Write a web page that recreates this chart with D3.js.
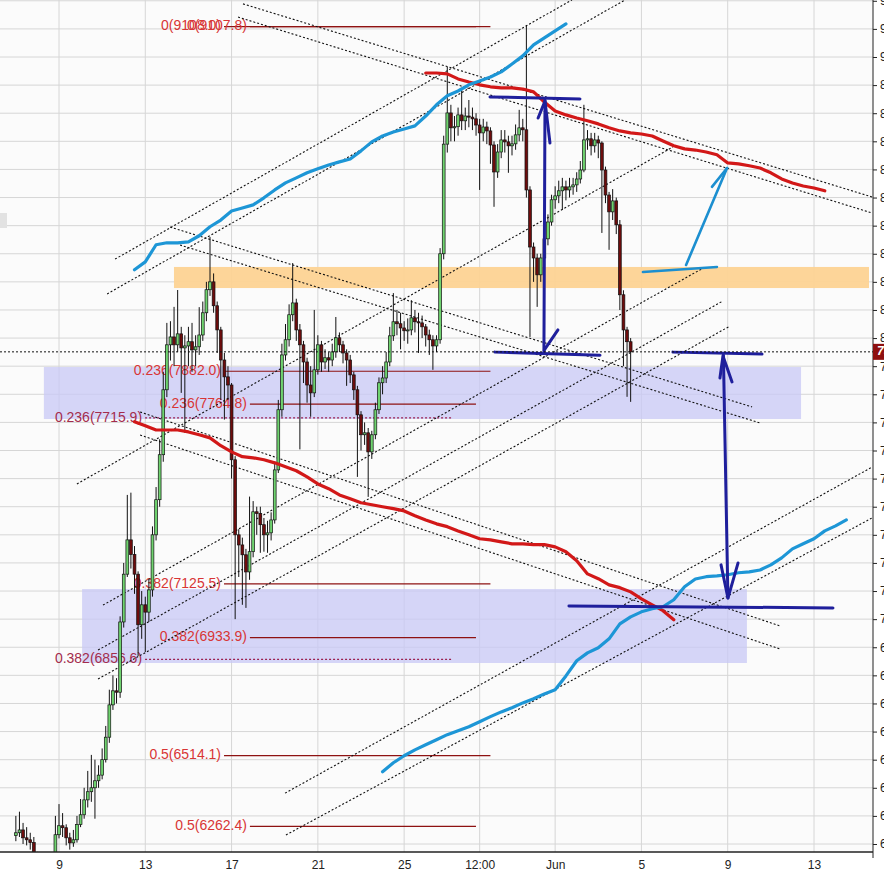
<!DOCTYPE html>
<html><head><meta charset="utf-8">
<script src="https://cdn.jsdelivr.net/npm/d3@7"></script>
<style>html,body{margin:0;padding:0;background:#fff;overflow:hidden}</style>
</head><body><svg id="c" width="884" height="875"></svg>
<script>
// ---------------- DATA ----------------
const candleStartDay = 7;        // May 7, 00:00 (day-of-May scale, June d = 31 + d)
const candleStepDays = 1 / 6;    // 4-hour candles
const firstOpen = 6230;
const closes = [6240,6250,6222,6215,6205,6170,6120,6080,6060,6100,6150,6233,6265,6258,6222,6204,6215,6269,6304,6357,
6386,6400,6425,6445,6500,6580,6695,6745,6740,6990,7160,7282,7230,7160,6980,7051,7025,7104,7300,7425,
7585,7816,7976,8004,7976,8015,7965,7972,7987,7958,7969,8011,8090,8172,8200,8115,8029,7922,7862,7833,
7567,7300,7264,7229,7168,7240,7382,7376,7336,7300,7307,7353,7531,7745,7940,7994,8083,8125,8029,7976,
7915,7833,7805,7887,7976,7915,7930,7922,7951,8001,7976,7947,7922,7869,7816,7727,7656,7663,7595,7656,
7745,7841,7858,7915,8008,8058,8051,8036,8026,8029,8072,8058,8054,8040,8011,7994,7972,7994,8300,8690,
8801,8748,8752,8794,8773,8790,8786,8780,8758,8730,8751,8737,8687,8591,8662,8705,8698,8684,8691,8723,
8748,8741,8527,8324,8285,8225,8285,8353,8413,8492,8506,8524,8538,8527,8538,8545,8566,8598,8705,8709,
8684,8705,8694,8598,8509,8449,8488,8403,8154,8029,7987,7951];
const highs = [6300,6315,6275,6260,6240,6225,6172,6135,6110,6130,6168,6300,6342,6310,6270,6240,6250,6300,6360,6400,
6460,6517,6500,6480,6540,6620,6749,6800,6790,7010,7200,7442,7450,7260,7170,7100,7080,7140,7330,7470,
7640,7880,8054,8060,8111,8171,8040,8010,8040,8054,8010,8110,8130,8200,8360,8230,8130,8040,7947,7900,
7840,7580,7320,7290,7250,7436,7420,7400,7400,7360,7350,7380,7560,7780,7980,8050,8120,8267,8140,8050,
7990,7930,7900,8100,8010,7990,7960,7950,7980,8075,8020,7990,7960,7940,7880,7830,7740,7700,7680,7670,
7770,7860,7900,7950,8040,8160,8100,8090,8060,8070,8135,8100,8090,8080,8050,8030,8010,8010,8320,8720,
8965,8830,8790,8820,8883,8820,8847,8820,8800,8780,8780,8770,8750,8700,8690,8740,8740,8720,8720,8760,
8812,8780,9114,8540,8340,8300,8300,8380,8440,8510,8540,8560,8570,8560,8570,8570,8590,8630,8830,8740,
8730,8730,8720,8700,8610,8520,8530,8500,8420,8170,8040,8000];
const lows = [6210,6225,6200,6195,6180,6160,6090,6050,6030,6040,6090,6140,6220,6225,6195,6180,6190,6205,6260,6290,
6330,6350,6290,6400,6430,6490,6560,6677,6700,6720,6970,7150,7180,7090,6869,6930,6883,6990,7080,7280,
7400,7560,7790,7920,7900,7950,7805,7663,7900,7880,7900,7940,7990,8060,8150,8090,7947,7780,7710,7780,
7500,7000,7150,7051,7040,7140,7220,7300,7236,7240,7236,7280,7340,7520,7720,7920,7970,8060,7990,7604,
7840,7770,7720,7790,7870,7880,7890,7880,7900,7930,7950,7910,7830,7840,7780,7506,7600,7620,7435,7570,
7640,7730,7800,7840,7900,7990,8010,7960,7990,7980,8010,8020,7947,8000,7970,7940,7887,7950,7980,8280,
8660,8700,8700,8720,8740,8740,8750,8740,8720,8527,8700,8690,8620,8467,8570,8640,8660,8588,8650,8670,
8700,8700,8500,8004,8200,8111,8200,8260,8330,8400,8460,8480,8456,8490,8500,8510,8520,8550,8590,8670,
8650,8660,8640,8374,8480,8314,8420,8370,8100,7900,7791,7773];

// moving averages, one value every half day
const maStep = 0.5;
const maBlueUpperStart = 12.5;
const maBlueUpper = [8243,8271,8332,8339,8339,8342,8364,8396,8420,8452,8463,8474,8499,8527,8552,8570,8588,8602,8616,8627,
8637,8666,8698,8719,8733,8744,8755,8790,8830,8862,8879,8901,8915,8929,8947,8975,9004,9043,9068,9093,9118];
const maRedUpperStart = 26.0;
const maRedUpper = [8943,8943,8940,8922,8911,8901,8894,8890,8890,8886,8876,8840,8808,8794,8783,8773,8762,8748,8737,8730,
8726,8719,8701,8684,8673,8669,8662,8652,8623,8620,8613,8605,8588,8566,8552,8541,8534,8524];
const maRedLowerStart = 12.5;
const maRedLower = [7702,7688,7673,7673,7673,7666,7656,7645,7617,7595,7578,7574,7567,7556,7542,7528,7506,7481,7464,7442,
7428,7414,7407,7400,7393,7385,7368,7353,7339,7329,7314,7300,7286,7282,7275,7268,7268,7265,7265,7257,
7240,7208,7161,7144,7122,7112,7097,7072,7051,7030,6998];
const maBlueLowerStart = 24.0;
const maBlueLower = [6457,6489,6514,6535,6553,6571,6589,6603,6617,6635,6653,6670,6685,6702,6717,6734,6749,6798,6852,6880,
6898,6930,6983,7008,7026,7037,7044,7069,7115,7143,7151,7154,7158,7165,7168,7175,7193,7218,7250,7268,
7286,7314,7332,7353];

// axis ticks
const dayTicks = [9,13,17,21,25,28.5,32,36,40,44];
const dayTickLabels = ["9","13","17","21","25","12:00","Jun","5","9","13"];
const priceTicks = [6200,6300,6400,6500,6600,6700,6800,6900,7000,7100,7200,7300,7400,7500,7600,7700,7800,7900,
8000,8100,8200,8300,8400,8500,8600,8700,8800,8900,9000,9100,9200];

// Fibonacci retracement drawings
const fibALabels = ["0(9108.0)","0.236(7882.0)","0.382(7125.5)","0.5(6514.1)"];
const fibAValues = [9108.0,7882.0,7125.5,6514.1];
const fibASpan = [16.65,29.0];
const fibBLabels = ["0(9107.8)","0.236(7764.8)","0.382(6933.9)","0.5(6262.4)"];
const fibBValues = [9107.8,7764.8,6933.9,6262.4];
const fibBSpan = [17.85,28.33];
const fibCLabels = ["0.236(7715.9)","0.382(6856.6)"];
const fibCValues = [7715.9,6856.6];
const fibCSpan = [12.99,27.22];

// dotted trend / channel lines [day, price] pairs
const trendLines = [
 [[17.53,9189],[46.69,8502]],
 [[17.30,9142],[46.69,8445]],
 [[11.60,8281],[32.78,9203]],
 [[11.23,8157],[35.24,9203]],
 [[14.15,8395],[41.13,7755]],
 [[14.61,8331],[41.50,7698]],
 [[12.76,7737],[42.42,6976]],
 [[12.76,7655],[42.42,6894]],
 [[9.83,7481],[37.46,8680]],
 [[11.04,7050],[38.86,8249]],
 [[10.81,6890],[39.78,8132]],
 [[10.81,6787],[40.11,8043]],
 [[19.48,6381],[46.69,7541]],
 [[19.52,6232],[46.69,7360]]
];

// zones
const zoneOrange = [[14.33,8253],[46.55,8178]];
const zonesBlue = [[[8.30,7897],[43.40,7712]],[[10.07,7107],[40.89,6844]]];

// hand-drawn annotations
const navyLines = [
 [[28.98,8858],[33.15,8851]],
 [[31.53,8847],[31.48,7951]],
 [[31.21,8783],[31.53,8843],[31.76,8694]],
 [[32.13,8029],[31.50,7958]],
 [[29.21,7950],[34.08,7939]],
 [[37.46,7950],[41.59,7943]],
 [[39.80,7940],[40.01,7075]],
 [[39.64,7858],[39.78,7936],[40.20,7844]],
 [[39.69,7193],[40.01,7075],[40.48,7200]],
 [[32.64,7047],[44.88,7040]]
];
const cyanLines = [
 [[36.07,8235],[39.50,8253]],
 [[38.07,8260],[39.97,8605]],
 [[39.27,8538],[39.97,8605]]
];

// ---------------- DRAW ----------------
const W = 884, H = 875, PR = 873, PB = 852;
const svg = d3.select("#c");
const x = d3.scaleLinear().domain([9,44]).range([59,814]);
const y = d3.scaleLinear().domain([6200,9000]).range([844,57]);

svg.append("rect").attr("width",W).attr("height",H).attr("fill","#ffffff");
svg.append("rect").attr("x",0).attr("y",0).attr("width",PR).attr("height",PB).attr("fill","#fbfbfb");
svg.append("defs").append("clipPath").attr("id","clip")
  .append("rect").attr("x",0).attr("y",0).attr("width",PR).attr("height",PB);
const g = svg.append("g").attr("clip-path","url(#clip)");

// grid
g.selectAll(".hg").data(priceTicks).join("line")
  .attr("x1",0).attr("x2",PR).attr("y1",d=>y(d)).attr("y2",d=>y(d))
  .attr("stroke","#d6d6d6").attr("stroke-width",1);
g.selectAll(".vg").data(dayTicks).join("line")
  .attr("y1",0).attr("y2",PB).attr("x1",d=>x(d)).attr("x2",d=>x(d))
  .attr("stroke","#d6d6d6").attr("stroke-width",1);

// zones
g.append("rect")
  .attr("x",x(zoneOrange[0][0])).attr("y",y(zoneOrange[0][1]))
  .attr("width",x(zoneOrange[1][0])-x(zoneOrange[0][0]))
  .attr("height",y(zoneOrange[1][1])-y(zoneOrange[0][1]))
  .attr("fill","#fdd393").attr("opacity",0.95);
g.selectAll(".zb").data(zonesBlue).join("rect")
  .attr("x",d=>x(d[0][0])).attr("y",d=>y(d[0][1]))
  .attr("width",d=>x(d[1][0])-x(d[0][0]))
  .attr("height",d=>y(d[1][1])-y(d[0][1]))
  .attr("fill","#c8c8f6").attr("opacity",0.75);

// fib drawings
function fib(labels, values, span, lineColor, textColor, dashed){
  const gg = g.append("g");
  values.forEach((v,i)=>{
    gg.append("line").attr("x1",x(span[0])).attr("x2",x(span[1]))
      .attr("y1",y(v)).attr("y2",y(v))
      .attr("stroke",lineColor).attr("stroke-width",dashed?1.2:1.2)
      .attr("stroke-dasharray",dashed?"2,2":null);
    gg.append("text").attr("x",x(span[0])-3).attr("y",y(v))
      .attr("text-anchor","end").attr("dominant-baseline","middle")
      .attr("font-family","Liberation Sans, Arial, sans-serif").attr("font-size",14)
      .attr("fill",textColor).text(labels[i]);
  });
}
fib(fibALabels, fibAValues, fibASpan, "#8e1212", "#d83535", false);
fib(fibBLabels, fibBValues, fibBSpan, "#8e1212", "#d83535", false);
fib(fibCLabels, fibCValues, fibCSpan, "#9a2050", "#a32c4c", true);

// trend lines
g.selectAll(".tl").data(trendLines).join("line")
  .attr("x1",d=>x(d[0][0])).attr("y1",d=>y(d[0][1]))
  .attr("x2",d=>x(d[1][0])).attr("y2",d=>y(d[1][1]))
  .attr("stroke","#111").attr("stroke-width",1.1).attr("stroke-dasharray","2,2");

// candles
const candles = closes.map((c,i)=>({
  t: candleStartDay + i*candleStepDays,
  o: i===0 ? firstOpen : closes[i-1], c, h: highs[i], l: lows[i]
}));
const cg = g.append("g");
cg.selectAll(".wick").data(candles).join("line")
  .attr("x1",d=>x(d.t)).attr("x2",d=>x(d.t))
  .attr("y1",d=>y(d.h)).attr("y2",d=>y(d.l))
  .attr("stroke","#111").attr("stroke-width",1);
cg.selectAll(".body").data(candles).join("rect")
  .attr("x",d=>x(d.t)-1.4).attr("width",2.8)
  .attr("y",d=>y(Math.max(d.o,d.c)))
  .attr("height",d=>Math.max(1,Math.abs(y(d.o)-y(d.c))))
  .attr("fill",d=>d.c>=d.o?"#6fd36f":"#6e0c0c")
  .attr("stroke","#111").attr("stroke-width",0.7);

// moving averages
const line = d3.line().x(d=>x(d[0])).y(d=>y(d[1]));
function ma(start, vals, color){
  g.append("path").datum(vals.map((v,i)=>[start+i*maStep, v]))
    .attr("d",line).attr("fill","none").attr("stroke",color)
    .attr("stroke-width",3.2).attr("stroke-linejoin","round").attr("stroke-linecap","round");
}
ma(maRedLowerStart, maRedLower, "#d21818");
ma(maRedUpperStart, maRedUpper, "#d21818");
ma(maBlueUpperStart, maBlueUpper, "#1d96d6");
ma(maBlueLowerStart, maBlueLower, "#1d96d6");

// hand-drawn annotations
g.selectAll(".nv").data(navyLines).join("path")
  .attr("d",line).attr("fill","none").attr("stroke","#1f1f9c")
  .attr("stroke-width",3).attr("stroke-linecap","round").attr("stroke-linejoin","round");
g.selectAll(".cy").data(cyanLines).join("path")
  .attr("d",line).attr("fill","none").attr("stroke","#1c8fd0")
  .attr("stroke-width",2.6).attr("stroke-linecap","round");

// last price line
const last = closes[closes.length-1];
g.append("line").attr("x1",0).attr("x2",PR).attr("y1",y(last)).attr("y2",y(last))
  .attr("stroke","#111").attr("stroke-width",1).attr("stroke-dasharray","2,2");

// small UI tab at left edge
svg.append("rect").attr("x",0).attr("y",213).attr("width",7).attr("height",15).attr("fill","#e2e2e2");

// right axis
const ay = svg.append("g").attr("transform",`translate(${PR},0)`)
  .call(d3.axisRight(y).tickValues(priceTicks).tickSize(4).tickFormat(d3.format(".1f")));
ay.select(".domain").remove();
ay.selectAll("line").attr("stroke","#222");
ay.selectAll("text").attr("font-family","Liberation Sans, Arial, sans-serif").attr("font-size",12).attr("fill","#222");
svg.append("line").attr("x1",PR).attr("x2",PR).attr("y1",0).attr("y2",PB+6).attr("stroke","#222");

// last price tag
svg.append("rect").attr("x",PR).attr("y",y(last)-8).attr("width",20).attr("height",16).attr("fill","#8e0f0f");
svg.append("text").attr("x",PR+4).attr("y",y(last)).attr("dominant-baseline","middle")
  .attr("font-family","Liberation Sans, Arial, sans-serif").attr("font-size",12).attr("font-weight","bold")
  .attr("font-style","italic").attr("fill","#fff").text(d3.format(".1f")(last));

// bottom axis
const ax = svg.append("g").attr("transform",`translate(0,${PB})`)
  .call(d3.axisBottom(x).tickValues(dayTicks).tickSize(0).tickPadding(8).tickFormat((d,i)=>dayTickLabels[i]));
ax.select(".domain").remove();
ax.selectAll("text").attr("font-family","Liberation Sans, Arial, sans-serif").attr("font-size",12).attr("fill","#222");
svg.append("line").attr("x1",0).attr("x2",PR).attr("y1",PB).attr("y2",PB).attr("stroke","#222").attr("stroke-width",1.5);
</script></body></html>
